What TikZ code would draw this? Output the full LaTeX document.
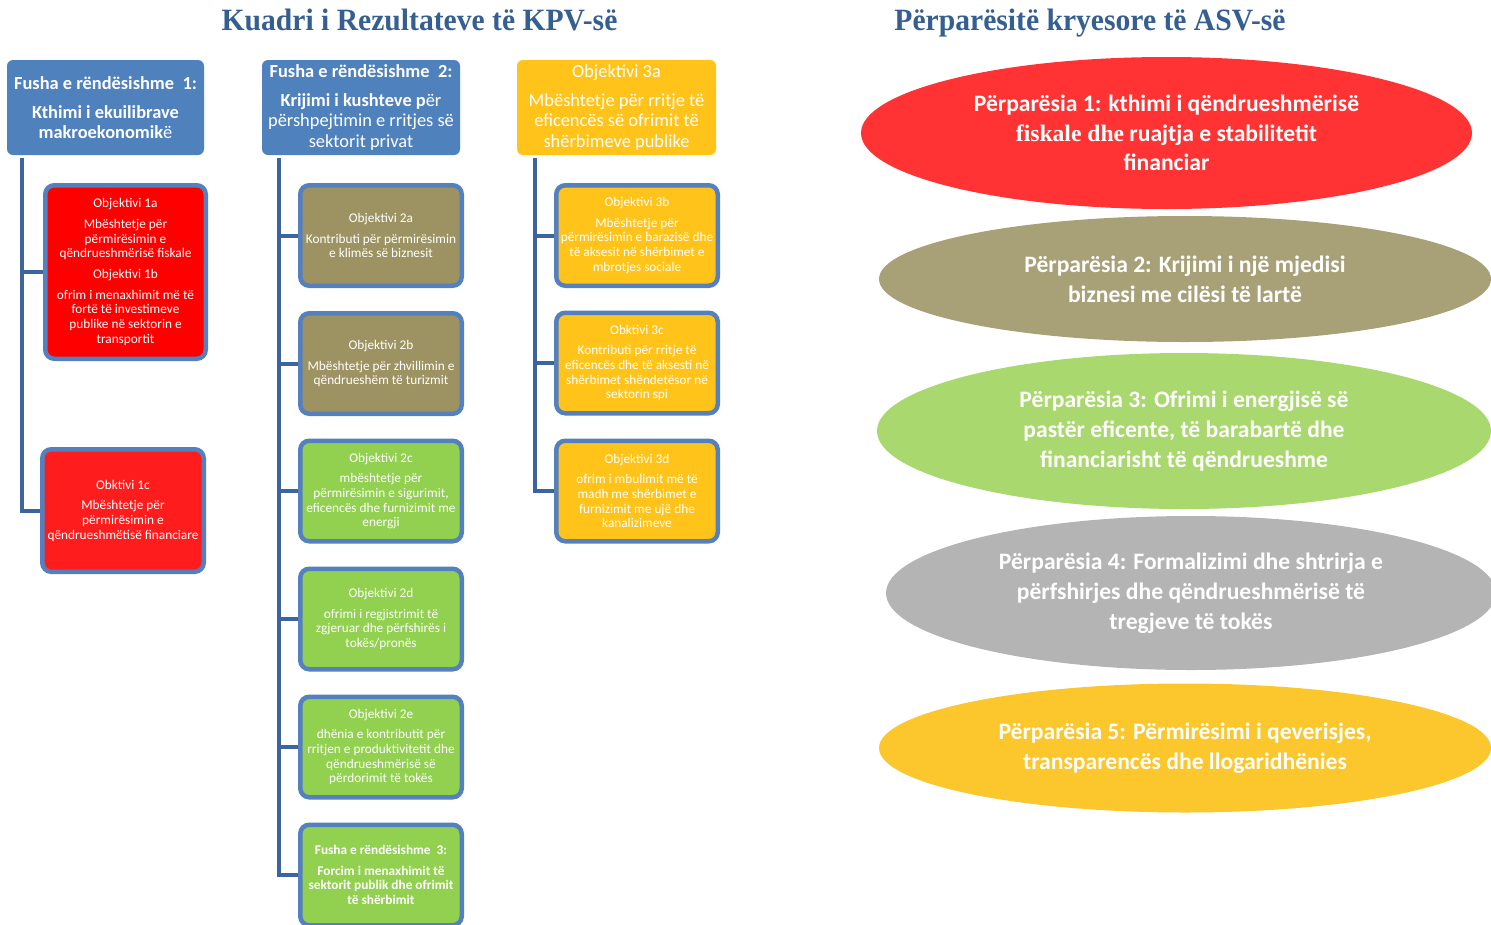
\documentclass[tikz,border=0pt]{standalone}
\usepackage{fontspec}
\setmainfont{Carlito}
\newfontfamily\titlefont{Liberation Serif}
\usetikzlibrary{shapes.geometric}
\definecolor{titleblue}{RGB}{54,95,145}
\definecolor{hdrblue}{RGB}{79,129,189}
\definecolor{bordblue}{RGB}{84,128,190}
\definecolor{connblue}{RGB}{62,100,160}
\definecolor{objred}{RGB}{255,0,0}
\definecolor{objred2}{RGB}{255,28,28}
\definecolor{objolive}{RGB}{157,147,98}
\definecolor{objgreen}{RGB}{146,208,80}
\definecolor{objyellow}{RGB}{255,195,25}
\definecolor{eRed}{RGB}{255,51,51}
\definecolor{eOlive}{RGB}{168,160,119}
\definecolor{eGreen}{RGB}{169,216,110}
\definecolor{eGrey}{RGB}{180,180,180}
\definecolor{eYellow}{RGB}{252,198,45}
\newcommand{\hdrfont}{\fontsize{18.4}{20.5}\selectfont}
\newcommand{\objfont}{\fontsize{13.3}{14.7}\selectfont}
\newcommand{\prifont}{\fontsize{23.6}{29.8}\selectfont\bfseries}
\begin{document}
\begin{tikzpicture}[x=1pt,y=-1pt,
  hdr/.style={rounded corners=6pt, minimum width=197pt, minimum height=95pt, align=center, text=white, inner sep=0pt, font=\hdrfont},
  obj/.style={rounded corners=9pt, draw=bordblue, line width=4.5pt, minimum width=161.5pt, minimum height=100.5pt, align=center, text=white, inner sep=0pt, font=\objfont},
  conn/.style={draw=connblue, line width=4pt},
  pri/.style={ellipse, align=center, text=white, inner sep=0pt, font=\prifont},
  ttl/.style={text=titleblue, font=\titlefont\bfseries\fontsize{31}{34}\selectfont, inner sep=0pt, anchor=base}]
\useasboundingbox (0,0) rectangle (1491,924);
\clip (0,0) rectangle (1491,924);

% titles
\node[ttl] (t1) at (419.5,30) {\scalebox{0.955}[1]{Kuadri i Rezultateve të KPV-së}};
\node[ttl] (t2) at (1090,30) {\scalebox{0.955}[1]{Përparësitë kryesore të ASV-së}};

% header boxes
\node[hdr, fill=hdrblue] (h1) at (105.5,107.5) {\textbf{Fusha e rëndësishme\ \ 1:}\\[8.5pt]\textbf{Kthimi i ekuilibrave}\\\textbf{makroekonomik}ë};
\node[hdr, fill=hdrblue, minimum width=198pt] (h2) at (361,107.5) {\textbf{Fusha e rëndësishme\ \ 2:}\\[8.5pt]\textbf{Krijimi i kushteve p}ër\\përshpejtimin e rritjes së\\sektorit privat};
\node[hdr, fill=objyellow, minimum width=199pt] (h3) at (616.5,107.5) {Objektivi 3a\\[8.5pt]Mbështetje për rritje të\\eficencës së ofrimit të\\shërbimeve publike};

% column 1
\node[obj, fill=objred, minimum width=160.5pt, minimum height=173.5pt] (o1ab) at (125.5,272) {Objektivi 1a\\[6pt]Mbështetje për\\përmirësimin e\\qëndrueshmërisë fiskale\\[6pt]Objektivi 1b\\[6pt]ofrim i menaxhimit më të\\fortë të investimeve\\publike në sektorin e\\transportit};
\node[obj, fill=objred2, minimum height=122.5pt] (o1c) at (123,510.5) {Obktivi 1c\\[6pt]Mbështetje për\\përmirësimin e\\qëndrueshmëtisë financiare};

% column 2
\node[obj, fill=objolive] (o2a) at (381,235.5) {Objektivi 2a\\[6pt]Kontributi për përmirësimin\\e klimës së biznesit};
\node[obj, fill=objolive] (o2b) at (381,363.5) {Objektivi 2b\\[6pt]Mbështetje për zhvillimin e\\qëndrueshëm të turizmit};
\node[obj, fill=objgreen] (o2c) at (381,491) {Objektivi 2c\\[6pt]mbështetje për\\përmirësimin e sigurimit,\\eficencës dhe furnizimit me\\energji};
\node[obj, fill=objgreen] (o2d) at (381,619) {Objektivi 2d\\[6pt]ofrimi i regjistrimit të\\zgjeruar dhe përfshirës i\\tokës/pronës};
\node[obj, fill=objgreen] (o2e) at (381,747) {Objektivi 2e\\[6pt]dhënia e kontributit për\\rritjen e produktivitetit dhe\\qëndrueshmërisë së\\përdorimit të tokës};
\node[obj, fill=objgreen, font=\objfont\bfseries] (o2f) at (381,875) {Fusha e rëndësishme\ \ 3:\\[6pt]Forcim i menaxhimit të\\sektorit publik dhe ofrimit\\të shërbimit};

% column 3
\node[obj, fill=objyellow] (o3b) at (637,235.5) {Objektivi 3b\\[6pt]Mbështetje për\\përmirësimin e barazisë dhe\\të aksesit në shërbimet e\\mbrotjes sociale};
\node[obj, fill=objyellow] (o3c) at (637,363) {Obktivi 3c\\[6pt]Kontributi për rritje të\\eficencës dhe të aksesti në\\shërbimet shëndetësor në\\sektorin spi};
\node[obj, fill=objyellow] (o3d) at (637,491) {Objektivi 3d\\[6pt]ofrim i mbulimit më të\\madh me shërbimet e\\furnizimit me ujë dhe\\kanalizimeve};

% trunk coordinates
\coordinate (k1) at (22,158);
\coordinate (k2) at (279,158);
\coordinate (k3) at (535,158);

% connectors
\draw[conn] (k1) |- (o1c.west);
\draw[conn] (k1 |- o1ab.west) -- (o1ab.west);
\draw[conn] (k2) |- (o2f.west);
\foreach \n in {o2a,o2b,o2c,o2d,o2e}{\draw[conn] (k2 |- \n.west) -- (\n.west);}
\draw[conn] (k3) |- (o3d.west);
\foreach \n in {o3b,o3c}{\draw[conn] (k3 |- \n.west) -- (\n.west);}

% priorities
\node[pri, fill=eRed, minimum width=611pt, minimum height=152pt] (p1) at (1166.5,133) {Përparësia 1: kthimi i qëndrueshmërisë\\{\titlefont\bfseries fiskale dhe} ruajtja e stabilitetit\\financiar};
\node[pri, fill=eOlive, minimum width=612pt, minimum height=126pt] (p2) at (1185,279) {Përparësia 2: Krijimi i një mjedisi\\biznesi me cilësi të lartë};
\node[pri, fill=eGreen, minimum width=614pt, minimum height=156pt] (p3) at (1184,431) {Përparësia 3: Ofrimi i energjisë së\\pastër eficente, të barabartë dhe\\financiarisht të qëndrueshme};
\node[pri, fill=eGrey, minimum width=610pt, minimum height=154pt] (p4) at (1191,593) {Përparësia 4: Formalizimi dhe shtrirja e\\përfshirjes dhe qëndrueshmërisë të\\tregjeve të tokës};
\node[pri, fill=eYellow, minimum width=612pt, minimum height=129pt] (p5) at (1185,748) {Përparësia 5: Përmirësimi i qeverisjes,\\transparencës dhe llogaridhënies};
\end{tikzpicture}
\end{document}
